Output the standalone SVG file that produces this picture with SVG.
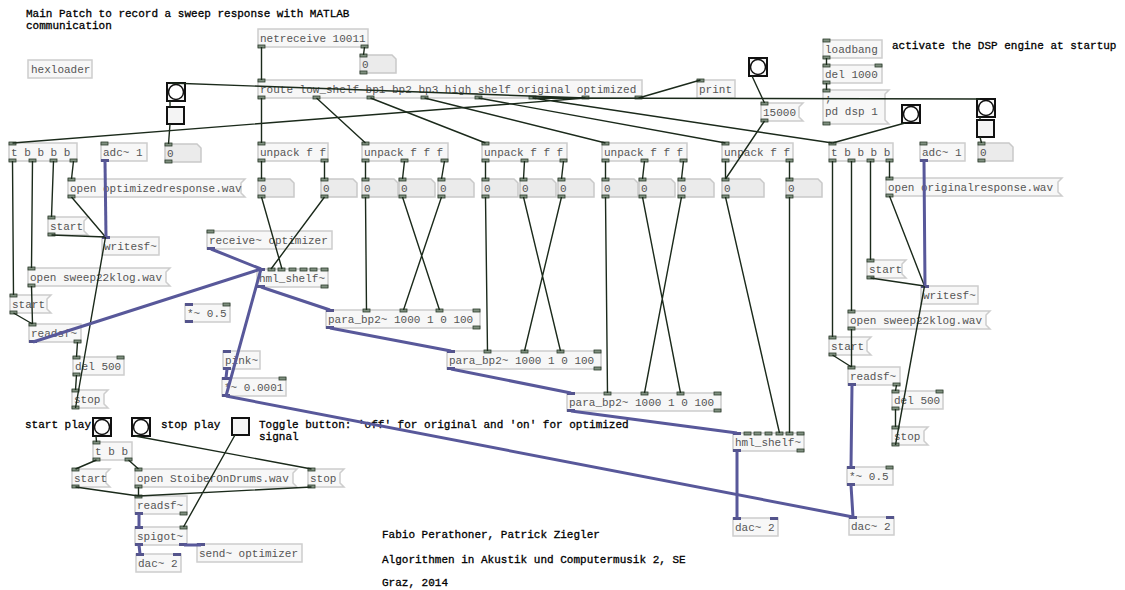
<svg xmlns="http://www.w3.org/2000/svg" xmlns:xlink="http://www.w3.org/1999/xlink" width="1125" height="590" viewBox="0 0 1125 590">
<style>
.b{fill:#f7f7f7;stroke:#cdcdcd;stroke-width:1.5}
.n{fill:#ebebeb;stroke:#c9c9c9;stroke-width:1.5}
.t{font-family:"Liberation Mono",monospace;font-size:11px;fill:#555}
.c{font-family:"Liberation Mono",monospace;font-size:11px;fill:#000;stroke:#000;stroke-width:0.3}
.ci{fill:#7f8f7f;stroke:#2c3c2c;stroke-width:0.8}
.si{fill:#54548c}
.cl{stroke:#1b2a1b;stroke-width:1.4;fill:none}
.sl{stroke:#58589a;stroke-width:3;fill:none}
.bg{fill:#f4f4f4;stroke:#111;stroke-width:2}
.bc{fill:#fff;stroke:#111;stroke-width:1.5}
</style>
<defs>
<rect id="c" width="7" height="3" class="ci"/>
<rect id="s" width="8" height="3" class="si"/>
</defs>
<rect width="1125" height="590" fill="#fff"/>

<!-- comments -->
<g id="comments">
<text class="c" x="26" y="17">Main Patch to record a sweep response with MATLAB</text>
<text class="c" x="26" y="28.5">communication</text>
<text class="c" x="892" y="49">activate the DSP engine at startup</text>
<text class="c" x="25" y="428">start play</text>
<text class="c" x="161" y="428">stop play</text>
<text class="c" x="259" y="428">Toggle button: 'off' for original and 'on' for optimized</text>
<text class="c" x="259" y="440">signal</text>
<text class="c" x="382" y="538">Fabio Perathoner, Patrick Ziegler</text>
<text class="c" x="382" y="563">Algorithmen in Akustik und Computermusik 2, SE</text>
<text class="c" x="382" y="586">Graz, 2014</text>
</g>

<!-- top objects -->
<g id="hexloader"><rect class="b" x="28" y="60" width="64" height="18"/><text class="t" x="31" y="73">hexloader</text></g>
<g id="netreceive"><rect class="b" x="258" y="29" width="110" height="18"/><text class="t" x="260" y="42">netreceive 10011</text><use href="#c" x="258" y="45"/><use href="#c" x="361" y="45"/></g>
<g id="num_net"><path class="n" d="M360 55H392L396 59V73H360Z"/><text class="t" x="362" y="68">0</text><use href="#c" x="360" y="54"/><use href="#c" x="360" y="71"/></g>
<g id="route"><rect class="b" x="258" y="80" width="384" height="18"/><text class="t" x="260" y="93">route low_shelf bp1 bp2 bp3 high_shelf original optimized</text><use href="#c" x="258" y="79"/><use href="#c" x="258" y="96"/><use href="#c" x="313" y="96"/><use href="#c" x="367" y="96"/><use href="#c" x="421" y="96"/><use href="#c" x="475" y="96"/><use href="#c" x="529" y="96"/><use href="#c" x="582" y="96"/><use href="#c" x="635" y="96"/></g>
<g id="print"><rect class="b" x="697" y="80" width="38" height="18"/><text class="t" x="699" y="93">print</text><use href="#c" x="697" y="79"/></g>
<g id="loadbang"><rect class="b" x="823" y="40" width="59" height="18"/><text class="t" x="825" y="53">loadbang</text><use href="#c" x="823" y="39"/><use href="#c" x="823" y="56"/></g>
<g id="del1000"><rect class="b" x="823" y="65" width="59" height="18"/><text class="t" x="825" y="78">del 1000</text><use href="#c" x="823" y="64"/><use href="#c" x="875" y="64"/><use href="#c" x="823" y="81"/></g>
<g id="msg_dsp"><path class="b" d="M823 90H889L885 94V120L889 124H823Z"/><text class="t" x="825" y="102">;</text><text class="t" x="825" y="115">pd dsp 1</text><use href="#c" x="823" y="89"/><use href="#c" x="823" y="122"/></g>
<g id="msg_15000"><path class="b" d="M761 103H803L799 107V117L803 121H761Z"/><text class="t" x="763" y="116">15000</text><use href="#c" x="761" y="102"/><use href="#c" x="761" y="119"/></g>

<!-- bangs / toggles -->
<g id="bang_opt"><rect class="bg" x="167" y="83" width="18" height="18"/><circle class="bc" cx="176" cy="92" r="7.5"/></g>
<g id="tgl_opt"><rect class="bg" x="167" y="107" width="17" height="17"/></g>
<g id="num_opt"><path class="n" d="M165 144H197L201 148V162H165Z"/><text class="t" x="167" y="157">0</text><use href="#c" x="165" y="143"/><use href="#c" x="165" y="160"/></g>
<g id="bang_15000"><rect class="bg" x="749" y="58" width="18" height="18"/><circle class="bc" cx="758" cy="67" r="7.5"/></g>
<g id="bang_rec"><rect class="bg" x="902" y="105" width="18" height="18"/><circle class="bc" cx="911" cy="114" r="7.5"/></g>
<g id="bang_orig"><rect class="bg" x="977" y="99" width="18" height="18"/><circle class="bc" cx="986" cy="108" r="7.5"/></g>
<g id="tgl_orig"><rect class="bg" x="977" y="120" width="17" height="17"/></g>
<g id="num_orig"><path class="n" d="M978 143H1009L1013 147V161H978Z"/><text class="t" x="980" y="156">0</text><use href="#c" x="978" y="142"/><use href="#c" x="978" y="159"/></g>

<!-- unpacks -->
<g id="unpackA"><rect class="b" x="258" y="143" width="70" height="18"/><text class="t" x="260" y="156">unpack f f</text><use href="#c" x="258" y="142"/><use href="#c" x="258" y="159"/><use href="#c" x="321" y="159"/></g>
<g id="unpackB"><rect class="b" x="362" y="143" width="86" height="18"/><text class="t" x="364" y="156">unpack f f f</text><use href="#c" x="362" y="142"/><use href="#c" x="362" y="159"/><use href="#c" x="401" y="159"/><use href="#c" x="441" y="159"/></g>
<g id="unpackC"><rect class="b" x="482" y="143" width="85" height="18"/><text class="t" x="484" y="156">unpack f f f</text><use href="#c" x="482" y="142"/><use href="#c" x="482" y="159"/><use href="#c" x="521" y="159"/><use href="#c" x="560" y="159"/></g>
<g id="unpackD"><rect class="b" x="602" y="143" width="85" height="18"/><text class="t" x="604" y="156">unpack f f f</text><use href="#c" x="602" y="142"/><use href="#c" x="602" y="159"/><use href="#c" x="641" y="159"/><use href="#c" x="680" y="159"/></g>
<g id="unpackE"><rect class="b" x="722" y="143" width="71" height="18"/><text class="t" x="724" y="156">unpack f f</text><use href="#c" x="722" y="142"/><use href="#c" x="722" y="159"/><use href="#c" x="786" y="159"/></g>

<!-- number boxes row -->
<g id="numA0"><path class="n" d="M258 179H290L294 183V197H258Z"/><text class="t" x="260" y="192">0</text><use href="#c" x="258" y="178"/><use href="#c" x="258" y="195"/></g>
<g id="numA1"><path class="n" d="M321 179H353L357 183V197H321Z"/><text class="t" x="323" y="192">0</text><use href="#c" x="321" y="178"/><use href="#c" x="321" y="195"/></g>
<g id="numB0"><path class="n" d="M362 179H394L398 183V197H362Z"/><text class="t" x="364" y="192">0</text><use href="#c" x="362" y="178"/><use href="#c" x="362" y="195"/></g>
<g id="numB1"><path class="n" d="M399 179H431L435 183V197H399Z"/><text class="t" x="401" y="192">0</text><use href="#c" x="399" y="178"/><use href="#c" x="399" y="195"/></g>
<g id="numB2"><path class="n" d="M438 179H470L474 183V197H438Z"/><text class="t" x="440" y="192">0</text><use href="#c" x="438" y="178"/><use href="#c" x="438" y="195"/></g>
<g id="numC0"><path class="n" d="M482 179H514L518 183V197H482Z"/><text class="t" x="484" y="192">0</text><use href="#c" x="482" y="178"/><use href="#c" x="482" y="195"/></g>
<g id="numC1"><path class="n" d="M520 179H552L556 183V197H520Z"/><text class="t" x="522" y="192">0</text><use href="#c" x="520" y="178"/><use href="#c" x="520" y="195"/></g>
<g id="numC2"><path class="n" d="M558 179H590L594 183V197H558Z"/><text class="t" x="560" y="192">0</text><use href="#c" x="558" y="178"/><use href="#c" x="558" y="195"/></g>
<g id="numD0"><path class="n" d="M602 179H634L638 183V197H602Z"/><text class="t" x="604" y="192">0</text><use href="#c" x="602" y="178"/><use href="#c" x="602" y="195"/></g>
<g id="numD1"><path class="n" d="M639 179H671L675 183V197H639Z"/><text class="t" x="641" y="192">0</text><use href="#c" x="639" y="178"/><use href="#c" x="639" y="195"/></g>
<g id="numD2"><path class="n" d="M678 179H710L714 183V197H678Z"/><text class="t" x="680" y="192">0</text><use href="#c" x="678" y="178"/><use href="#c" x="678" y="195"/></g>
<g id="numE0"><path class="n" d="M722 179H760L764 183V197H722Z"/><text class="t" x="724" y="192">0</text><use href="#c" x="722" y="178"/><use href="#c" x="722" y="195"/></g>
<g id="numE1"><path class="n" d="M786 179H818L822 183V197H786Z"/><text class="t" x="788" y="192">0</text><use href="#c" x="786" y="178"/><use href="#c" x="786" y="195"/></g>

<!-- left recording -->
<g id="tL"><rect class="b" x="9" y="143" width="68" height="18"/><text class="t" x="11" y="156">t b b b b</text><use href="#c" x="9" y="142"/><use href="#c" x="9" y="159"/><use href="#c" x="29" y="159"/><use href="#c" x="50" y="159"/><use href="#c" x="70" y="159"/></g>
<g id="adcL"><rect class="b" x="101" y="143" width="46" height="18"/><text class="t" x="103" y="156">adc~ 1</text><use href="#c" x="101" y="142"/><use href="#s" x="101" y="159"/></g>
<g id="msg_openopt"><path class="b" d="M68 179H245L241 183V193L245 197H68Z"/><text class="t" x="70" y="192">open optimizedresponse.wav</text><use href="#c" x="68" y="178"/><use href="#c" x="68" y="195"/></g>
<g id="msg_startL1"><path class="b" d="M48 217H88L84 221V231L88 235H48Z"/><text class="t" x="50" y="230">start</text><use href="#c" x="48" y="216"/><use href="#c" x="48" y="233"/></g>
<g id="writesfL"><rect class="b" x="102" y="237" width="57" height="18"/><text class="t" x="104" y="250">writesf~</text><use href="#s" x="102" y="236"/></g>
<g id="msg_sweepL"><path class="b" d="M28 268H170L166 272V282L170 286H28Z"/><text class="t" x="30" y="281">open sweep22klog.wav</text><use href="#c" x="28" y="267"/><use href="#c" x="28" y="284"/></g>
<g id="msg_startL2"><path class="b" d="M10 295H51L47 299V309L51 313H10Z"/><text class="t" x="12" y="308">start</text><use href="#c" x="10" y="294"/><use href="#c" x="10" y="311"/></g>
<g id="readsfL"><rect class="b" x="29" y="324" width="52" height="18"/><text class="t" x="31" y="337">readsf~</text><use href="#c" x="29" y="323"/><use href="#s" x="29" y="340"/><use href="#c" x="74" y="340"/></g>
<g id="delL"><rect class="b" x="73" y="357" width="51" height="18"/><text class="t" x="75" y="370">del 500</text><use href="#c" x="73" y="356"/><use href="#c" x="117" y="356"/><use href="#c" x="73" y="373"/></g>
<g id="msg_stopL"><path class="b" d="M72 390H108L104 394V404L108 408H72Z"/><text class="t" x="74" y="403">stop</text><use href="#c" x="72" y="389"/><use href="#c" x="72" y="406"/></g>

<!-- filter chain -->
<g id="receive_opt"><rect class="b" x="207" y="231" width="125" height="18"/><text class="t" x="209" y="244">receive~ optimizer</text><use href="#c" x="207" y="230"/><use href="#s" x="207" y="247"/></g>
<g id="hmlL"><rect class="b" x="257" y="269" width="71" height="18"/><text class="t" x="259" y="282">hml_shelf~</text><use href="#s" x="257" y="268"/><use href="#c" x="268" y="268"/><use href="#c" x="278" y="268"/><use href="#c" x="289" y="268"/><use href="#c" x="300" y="268"/><use href="#c" x="310" y="268"/><use href="#c" x="321" y="268"/><use href="#s" x="257" y="285"/><use href="#c" x="321" y="285"/></g>
<g id="mul05L"><rect class="b" x="185" y="304" width="45" height="18"/><text class="t" x="187" y="317">*~ 0.5</text><use href="#s" x="185" y="303"/><use href="#c" x="223" y="303"/><use href="#s" x="185" y="320"/></g>
<g id="pink"><rect class="b" x="223" y="351" width="37" height="18"/><text class="t" x="225" y="364">pink~</text><use href="#s" x="223" y="350"/><use href="#s" x="223" y="367"/></g>
<g id="mul0001"><rect class="b" x="222" y="378" width="64" height="18"/><text class="t" x="224" y="391">*~ 0.0001</text><use href="#s" x="222" y="377"/><use href="#c" x="279" y="377"/><use href="#s" x="222" y="394"/></g>
<g id="para1"><rect class="b" x="326" y="310" width="154" height="18"/><text class="t" x="328" y="323">para_bp2~ 1000 1 0 100</text><use href="#s" x="326" y="309"/><use href="#c" x="363" y="309"/><use href="#c" x="400" y="309"/><use href="#c" x="436" y="309"/><use href="#c" x="473" y="309"/><use href="#s" x="326" y="326"/><use href="#c" x="473" y="326"/></g>
<g id="para2"><rect class="b" x="447" y="351" width="154" height="18"/><text class="t" x="449" y="364">para_bp2~ 1000 1 0 100</text><use href="#s" x="447" y="350"/><use href="#c" x="484" y="350"/><use href="#c" x="521" y="350"/><use href="#c" x="557" y="350"/><use href="#c" x="594" y="350"/><use href="#s" x="447" y="367"/><use href="#c" x="594" y="367"/></g>
<g id="para3"><rect class="b" x="567" y="393" width="154" height="18"/><text class="t" x="569" y="406">para_bp2~ 1000 1 0 100</text><use href="#s" x="567" y="392"/><use href="#c" x="604" y="392"/><use href="#c" x="641" y="392"/><use href="#c" x="677" y="392"/><use href="#c" x="714" y="392"/><use href="#s" x="567" y="409"/><use href="#c" x="714" y="409"/></g>
<g id="hmlR"><rect class="b" x="733" y="433" width="71" height="18"/><text class="t" x="735" y="446">hml_shelf~</text><use href="#s" x="733" y="432"/><use href="#c" x="744" y="432"/><use href="#c" x="754" y="432"/><use href="#c" x="765" y="432"/><use href="#c" x="776" y="432"/><use href="#c" x="786" y="432"/><use href="#c" x="797" y="432"/><use href="#s" x="733" y="449"/><use href="#c" x="797" y="449"/></g>
<g id="dacM"><rect class="b" x="733" y="518" width="45" height="18"/><text class="t" x="735" y="531">dac~ 2</text><use href="#s" x="733" y="517"/><use href="#s" x="770" y="517"/></g>

<!-- right recording -->
<g id="tR"><rect class="b" x="829" y="143" width="64" height="18"/><text class="t" x="831" y="156">t b b b b</text><use href="#c" x="829" y="142"/><use href="#c" x="829" y="159"/><use href="#c" x="848" y="159"/><use href="#c" x="867" y="159"/><use href="#c" x="886" y="159"/></g>
<g id="adcR"><rect class="b" x="920" y="143" width="45" height="18"/><text class="t" x="922" y="156">adc~ 1</text><use href="#c" x="920" y="142"/><use href="#s" x="920" y="159"/></g>
<g id="msg_openorig"><path class="b" d="M886 178H1062L1058 182V192L1062 196H886Z"/><text class="t" x="888" y="191">open originalresponse.wav</text><use href="#c" x="886" y="177"/><use href="#c" x="886" y="194"/></g>
<g id="msg_startR1"><path class="b" d="M867 260H906L902 264V274L906 278H867Z"/><text class="t" x="869" y="273">start</text><use href="#c" x="867" y="259"/><use href="#c" x="867" y="276"/></g>
<g id="writesfR"><rect class="b" x="921" y="286" width="57" height="18"/><text class="t" x="923" y="299">writesf~</text><use href="#s" x="921" y="285"/></g>
<g id="msg_sweepR"><path class="b" d="M848 311H990L986 315V325L990 329H848Z"/><text class="t" x="850" y="324">open sweep22klog.wav</text><use href="#c" x="848" y="310"/><use href="#c" x="848" y="327"/></g>
<g id="msg_startR2"><path class="b" d="M829 337H871L867 341V351L871 355H829Z"/><text class="t" x="831" y="350">start</text><use href="#c" x="829" y="336"/><use href="#c" x="829" y="353"/></g>
<g id="readsfR"><rect class="b" x="848" y="367" width="52" height="18"/><text class="t" x="850" y="380">readsf~</text><use href="#c" x="848" y="366"/><use href="#s" x="848" y="383"/><use href="#c" x="893" y="383"/></g>
<g id="delR"><rect class="b" x="892" y="391" width="51" height="18"/><text class="t" x="894" y="404">del 500</text><use href="#c" x="892" y="390"/><use href="#c" x="936" y="390"/><use href="#c" x="892" y="407"/></g>
<g id="msg_stopR"><path class="b" d="M892 427H928L924 431V441L928 445H892Z"/><text class="t" x="894" y="440">stop</text><use href="#c" x="892" y="426"/><use href="#c" x="892" y="443"/></g>
<g id="mul05R"><rect class="b" x="847" y="467" width="46" height="18"/><text class="t" x="849" y="480">*~ 0.5</text><use href="#s" x="847" y="466"/><use href="#c" x="886" y="466"/><use href="#s" x="847" y="483"/></g>
<g id="dacR"><rect class="b" x="849" y="517" width="45" height="18"/><text class="t" x="851" y="530">dac~ 2</text><use href="#s" x="849" y="516"/><use href="#s" x="886" y="516"/></g>

<!-- bottom player -->
<g id="bang_start"><rect class="bg" x="93" y="418" width="18" height="18"/><circle class="bc" cx="102" cy="427" r="7.5"/></g>
<g id="bang_stop"><rect class="bg" x="132" y="418" width="18" height="18"/><circle class="bc" cx="141" cy="427" r="7.5"/></g>
<g id="tgl_sel"><rect class="bg" x="232" y="418" width="17" height="17"/></g>
<g id="tbb"><rect class="b" x="93" y="442" width="39" height="18"/><text class="t" x="95" y="455">t b b</text><use href="#c" x="93" y="441"/><use href="#c" x="93" y="458"/><use href="#c" x="125" y="458"/></g>
<g id="msg_startB"><path class="b" d="M72 469H110L106 473V483L110 487H72Z"/><text class="t" x="74" y="482">start</text><use href="#c" x="72" y="468"/><use href="#c" x="72" y="485"/></g>
<g id="msg_openB"><path class="b" d="M135 469H297L293 473V483L297 487H135Z"/><text class="t" x="137" y="482">open StoiberOnDrums.wav</text><use href="#c" x="135" y="468"/><use href="#c" x="135" y="485"/></g>
<g id="msg_stopB"><path class="b" d="M308 469H344L340 473V483L344 487H308Z"/><text class="t" x="310" y="482">stop</text><use href="#c" x="308" y="468"/><use href="#c" x="308" y="485"/></g>
<g id="readsfB"><rect class="b" x="135" y="496" width="52" height="18"/><text class="t" x="137" y="509">readsf~</text><use href="#c" x="135" y="495"/><use href="#s" x="135" y="512"/><use href="#c" x="180" y="512"/></g>
<g id="spigot"><rect class="b" x="135" y="527" width="52" height="18"/><text class="t" x="137" y="540">spigot~</text><use href="#s" x="135" y="526"/><use href="#c" x="180" y="526"/><use href="#s" x="135" y="543"/><use href="#s" x="179" y="543"/></g>
<g id="send_opt"><rect class="b" x="197" y="544" width="105" height="18"/><text class="t" x="199" y="557">send~ optimizer</text><use href="#s" x="197" y="543"/></g>
<g id="dacB"><rect class="b" x="136" y="554" width="45" height="18"/><text class="t" x="138" y="567">dac~ 2</text><use href="#s" x="136" y="553"/><use href="#s" x="173" y="553"/></g>

<!-- connectors -->
<g id="connectors">
<g class="cl">
<path d="M261.5 47V80M364.5 47L363.5 55"/>
<path d="M261.5 98V143M316.5 98L365.5 143M370.5 98L485.5 143M424.5 98L605.5 143M478.5 98L725.5 143"/>
<path d="M532.5 98L832.5 143M532.5 98L980 99M585.5 98L12.5 143M585.5 98L170 83M638.5 98L700.5 80"/>
<path d="M170 101V107M170 124L168.5 144M980 117V120M980 137L981.5 143"/>
<path d="M752 76L764.5 103M764.5 121L725.5 179M826.5 58V65M826.5 83V90M905 123L832.5 143"/>
<path d="M261.5 161V179M324.5 161V179M365.5 161V179M404.5 161L402.5 179M444.5 161L441.5 179M485.5 161V179M524.5 161L523.5 179M563.5 161L561.5 179M605.5 161V179M644.5 161L642.5 179M683.5 161L681.5 179M725.5 161V179M789.5 161V179"/>
<path d="M261.5 197L282 269M324.5 197L271 269"/>
<path d="M365.5 197L366.5 310M402.5 197L439.5 310M441.5 197L403.5 310"/>
<path d="M485.5 197L487.5 351M523.5 197L560.5 351M561.5 197L524.5 351"/>
<path d="M605.5 197L607.5 393M642.5 197L680.5 393M681.5 197L644.5 393"/>
<path d="M725.5 197L779.5 433M789.5 197V433"/>
<path d="M12.5 161L13.5 295M32.5 161L31.5 268M53.5 161L51.5 217M73.5 161L71.5 179"/>
<path d="M71.5 197L105.5 237M51.5 235L105.5 237M75.5 408L105.5 237"/>
<path d="M31.5 286L32.5 324M13.5 313L32.5 324M77.5 342L76.5 357M76.5 375L75.5 390"/>
<path d="M832.5 161V337M851.5 161V311M870.5 161V260M889.5 161V178"/>
<path d="M889.5 196L924.5 286M870.5 278L924.5 286M895.5 445L924.5 286"/>
<path d="M851.5 329V367M832.5 355L851.5 367M896.5 385L895.5 391M895.5 409V427"/>
<path d="M96 436L96.5 442M96.5 460L75.5 469M128.5 460L138.5 469M135 436L311.5 469"/>
<path d="M75.5 487L138.5 496M138.5 487V496M311.5 487L138.5 496M235 435L183.5 527"/>
</g>
<g class="sl">
<path d="M105 161L106 237"/>
<path d="M33 342L261 269M211 249L261 269M226 396L261 269M226 396L853 517M227 369L226 378"/>
<path d="M261 287L330 310M330 328L451 351M451 369L571 393M571 411L737 433M737 451V518"/>
<path d="M924 161L925 286M852 385L851 467M851 485L853 517"/>
<path d="M139 514V527M139 545L140 554M184 545H201"/>
</g>
</g>
</svg>
